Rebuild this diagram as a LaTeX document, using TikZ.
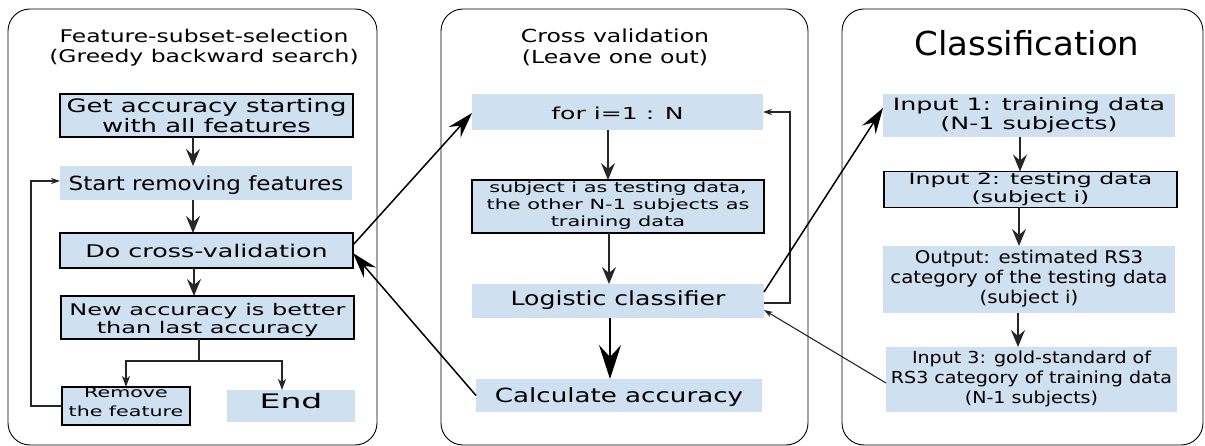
\documentclass[tikz,border=0pt]{standalone}
\usepackage{fontspec}
\usepackage{graphicx}
\setmainfont{DejaVu Sans}
\usetikzlibrary{arrows.meta}
\definecolor{boxblue}{RGB}{207,224,240}
\newcommand\bt[5][0pt]{\raisebox{#1}[\height][\depth]{\scalebox{#2}[1]{\fontsize{#3}{#4}\selectfont\begin{tabular}{@{}c@{}}#5\end{tabular}}}}
\newcommand\btt[4]{\scalebox{#1}[1]{\fontsize{#2}{#3}\selectfont\begin{tabular}[t]{@{}c@{}}#4\end{tabular}}}
\tikzset{
 bx/.style={fill=boxblue, inner sep=0pt, outer sep=0pt},
 bxd/.style={bx, draw=black, line width=1.2pt},
 panel/.style={draw=black, line width=0.9pt, rounded corners=22pt},
 flow/.style={draw=black!85, line width=1.7pt, -{Stealth[length=17pt,width=14pt,inset=6pt]}},
 bigflow/.style={draw=black, line width=2.2pt, -{Stealth[length=34pt,width=22pt,inset=12pt]}},
 cross/.style={draw=black, line width=1.5pt, -{Stealth[length=26pt,width=16pt,inset=9pt]}},
 thinarr/.style={draw=black!85, line width=1.1pt, -{Stealth[length=9pt,width=6pt,inset=3pt]}},
 midarr/.style={draw=black!85, line width=1.3pt, -{Stealth[length=11pt,width=8pt,inset=3pt]}},
 plainline/.style={draw=black!85, line width=1.3pt},
 ttl/.style={anchor=base, inner sep=0pt},
}
\begin{document}
\begin{tikzpicture}[x=1pt,y=-1pt]
\useasboundingbox (0,0) rectangle (1205,446);
% panels
\draw[panel] (8,9) rectangle (377,445);
\draw[panel] (441,9) rectangle (808,445);
\draw[panel] (842,9) rectangle (1203,445);
% titles
\node[ttl] (t1) at (204,43) {\btt{1.34}{17.5}{20}{Feature-subset-selection\\(Greedy backward search)}};
\node[ttl] (t2) at (615,43) {\btt{1.31}{18}{21}{Cross validation\\(Leave one out)}};
\node[ttl] (t3) at (1027,56) {\btt{1.03}{33}{38}{Classification}};
% panel 1 boxes
\node[bxd, minimum width=293pt, minimum height=43pt] (getacc) at (206.5,115.5) {\bt[-3pt]{1.4}{18.5}{20}{Get accuracy starting\\with all features}};
\node[bx, minimum width=292pt, minimum height=34pt] (startrm) at (206,183) {\bt[-3pt]{1.18}{19.5}{22}{Start removing features}};
\node[bxd, minimum width=293pt, minimum height=35pt] (docv) at (206.5,250.5) {\bt[-3pt]{1.45}{17.5}{20}{Do cross-validation}};
\node[bxd, minimum width=293pt, minimum height=43pt] (newacc) at (207.5,317.5) {\bt[-3pt]{1.5}{16}{18}{New accuracy is better\\than last accuracy}};
\node[bxd, minimum width=128pt, minimum height=34pt] (remove) at (126,406) {\bt[2.5pt]{1.47}{14}{19}{Remove\\the feature}};
\node[bx, minimum width=128pt, minimum height=32pt] (endn) at (291,406) {\bt[2pt]{1.65}{20}{22}{End}};
% panel 2 boxes
\node[bx, minimum width=291pt, minimum height=36pt] (fori) at (617.5,112) {\bt[-3.5pt]{1.52}{16.5}{18}{for i=1 : N}};
\node[bxd, minimum width=292pt, minimum height=53pt] (subj) at (618,206.5) {\bt{1.49}{14}{17}{subject i as testing data,\\the other N-1 subjects as\\training data}};
\node[bx, minimum width=292pt, minimum height=34pt] (logi) at (618,301) {\bt{1.29}{19.5}{22}{Logistic classifier}};
\node[bx, minimum width=286pt, minimum height=33pt] (calc) at (619,395.5) {\bt[-3pt]{1.34}{19.5}{22}{Calculate accuracy}};
% panel 3 boxes
\node[bx, minimum width=292pt, minimum height=43pt] (in1) at (1029,115.5) {\bt[-1pt]{1.49}{17}{19}{Input 1: training data\\(N-1 subjects)}};
\node[bxd, minimum width=293pt, minimum height=35pt] (in2) at (1030.5,189.5) {\bt{1.52}{15.5}{18}{Input 2: testing data\\(subject i)}};
\node[bx, minimum width=292pt, minimum height=67pt] (outp) at (1029,279.5) {\bt{1.13}{17.5}{20}{Output: estimated RS3\\category of the testing data\\(subject i)}};
\node[bx, minimum width=291pt, minimum height=65pt] (in3) at (1031.5,379.5) {\bt{1.155}{16.5}{20}{Input 3: gold-standard of\\RS3 category of training data\\(N-1 subjects)}};
% helper coordinates
\coordinate (c193) at (193,0);
\coordinate (c194) at (194,0);
\coordinate (split) at (199,361);
\coordinate (sl) at (126,361);
\coordinate (sr) at (282,361);
\coordinate (lb) at (31,406);
\coordinate (lt) at (31,181);
\coordinate (c608) at (608,0);
\coordinate (c609) at (609,0);
\coordinate (c610) at (610,0);
\coordinate (rb) at (790,303);
\coordinate (rt) at (790,112);
\coordinate (c1020) at (1020,0);
\coordinate (c1019) at (1019,0);
\coordinate (c1018) at (1018,0);
% panel 1 connectors
\draw[flow] (getacc.south -| c193) -- (startrm.north -| c193);
\draw[flow] (startrm.south -| c193) -- (docv.north -| c193);
\draw[flow] (docv.south -| c194) -- (newacc.north -| c194);
\draw[plainline] (newacc.south -| split) -- (split);
\draw[midarr] (split) -- (sl) -- (remove.north -| sl);
\draw[midarr] (split) -- (sr) -- (endn.north -| sr);
\draw[thinarr] (remove.west) -- (lb) -- (lt) -- (startrm.west |- lt);
% panel 2 connectors
\draw[flow] (fori.south -| c608) -- (subj.north -| c608);
\draw[flow] (subj.south -| c609) -- (logi.north -| c609);
\draw[bigflow] (logi.south -| c610) -- (calc.north -| c610);
\draw[thinarr] (logi.east |- rb) -- (rb) -- (rt) -- (fori.east |- rt);
% cross-panel connectors
\draw[cross] ([yshift=5.5pt]docv.east) -- ([yshift=-1pt]fori.west);
\draw[cross] (calc.west) -- ([yshift=-2.5pt]docv.east);
\draw[cross] ([yshift=9pt]logi.east) -- ([yshift=7.5pt]in1.west);
\draw[thinarr] ([yshift=-3.5pt]in3.west) -- ([yshift=-9pt]logi.east);
% panel 3 connectors
\draw[flow] (in1.south -| c1020) -- (in2.north -| c1020);
\draw[flow] (in2.south -| c1019) -- (outp.north -| c1019);
\draw[flow] (outp.south -| c1018) -- (in3.north -| c1018);
\end{tikzpicture}
\end{document}
